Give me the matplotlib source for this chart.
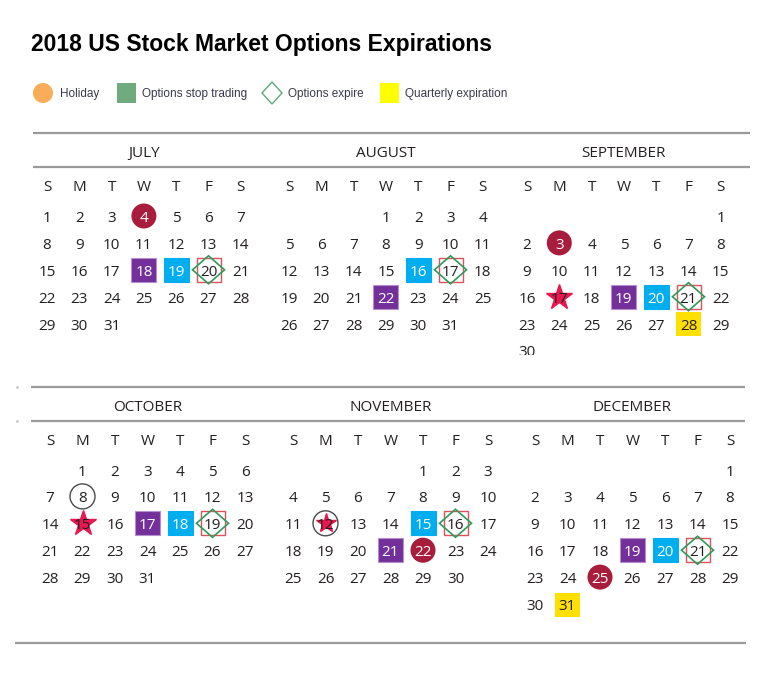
import calendar
import matplotlib
matplotlib.use('Agg')
import matplotlib.pyplot as plt
from matplotlib.patches import Circle, Rectangle, Polygon

year = 2018
title = '2018 US Stock Market Options Expirations'
month_nums = [7, 8, 9, 10, 11, 12]
month_names = ['JULY', 'AUGUST', 'SEPTEMBER', 'OCTOBER', 'NOVEMBER', 'DECEMBER']
day_letters = ['S', 'M', 'T', 'W', 'T', 'F', 'S']

legend_labels = ['Holiday', 'Options stop trading', 'Options expire', 'Quarterly expiration']

# marked days (month, day)
holidays = [(7, 4), (9, 3), (11, 22), (12, 25)]
purple_days = [(7, 18), (8, 22), (9, 19), (10, 17), (11, 21), (12, 19)]
blue_days = [(7, 19), (8, 16), (9, 20), (10, 18), (11, 15), (12, 20)]
expire_days = [(7, 20), (8, 17), (9, 21), (10, 19), (11, 16), (12, 21)]
quarterly_days = [(9, 28), (12, 31)]
star_days = [(9, 17), (10, 15), (11, 12)]
ringed_days = [(10, 8), (11, 12)]

# layout (pixels)
panel_x0 = [[47, 289, 527], [50, 293, 535]]
col_step = [32.3, 32.5]
line1_y = [133, 387]
name_y = [151, 405]
line2_y = [167, 421]
letters_y = [185, 439]
week0_y = [216, 469.5]
week_step = 26.9
line_span = [(33, 750), (31, 745)]
dy = 2.5  # text centring correction

font = 'Open Sans'
txt_col = '#231f20'

fig = plt.figure(figsize=(7.83, 6.95), dpi=100)
ax = fig.add_axes([0, 0, 1, 1])
ax.set_xlim(0, 783)
ax.set_ylim(695, 0)
ax.axis('off')

ax.text(31, 45, title, fontsize=16.5, fontweight='bold', family='Liberation Sans',
        ha='left', va='center', color='black')

# legend
ly = 93
ax.add_patch(Circle((43, ly), 10, color='#f9ad58', lw=0))
ax.add_patch(Rectangle((117, ly - 10), 19, 20, color='#6fab7f', lw=0))
ax.add_patch(Polygon([(262, ly), (272, ly - 11), (282, ly), (272, ly + 11)],
                     closed=True, fill=False, ec='#5fa87a', lw=1))
ax.add_patch(Rectangle((380, ly - 10), 19, 20, color='#ffff00', lw=0))
for lx, lab in zip([60, 142, 288, 405], legend_labels):
    ax.text(lx, ly + 1, lab, fontsize=8.5, family='Liberation Sans', color='#3a3a4a',
            ha='left', va='center')

cal = calendar.Calendar(firstweekday=6)


def day_pos(m, d):
    i = month_nums.index(m)
    r, c = divmod(i, 3)
    for w, week in enumerate(cal.monthdayscalendar(year, m)):
        if d in week:
            return (panel_x0[r][c] + week.index(d) * col_step[r], week0_y[r] + w * week_step)


gray = '#9a9a9a'
for r in range(2):
    x1, x2 = line_span[r]
    ax.plot([x1, x2], [line1_y[r], line1_y[r]], color=gray, lw=1.6, solid_capstyle='butt')
    ax.plot([x1, x2], [line2_y[r], line2_y[r]], color=gray, lw=1.6, solid_capstyle='butt')
ax.plot([15, 746], [643, 643], color=gray, lw=1.6, solid_capstyle='butt')
ax.plot([17, 17], [line1_y[1], line2_y[1]], color='#cccccc', ls='none', marker='s', ms=1)

for i, (m, name) in enumerate(zip(month_nums, month_names)):
    r, c = divmod(i, 3)
    x0 = panel_x0[r][c]
    ax.text(x0 + 3 * col_step[r], name_y[r] + dy, name, fontsize=11, family=font,
            color=txt_col, ha='center', va='center')
    for k, letter in enumerate(day_letters):
        ax.text(x0 + k * col_step[r], letters_y[r] + dy, letter, fontsize=11, family=font,
                color=txt_col, ha='center', va='center')

special_col = {}
for m, d in holidays:
    x, y = day_pos(m, d)
    ax.add_patch(Circle((x, y), 12.5, color='#a81d3c', lw=0, zorder=2))
    special_col[(m, d)] = 'white'
for days, col, edge in [(purple_days, '#74309a', '#b58fd0'), (blue_days, '#00aeef', '#00aeef')]:
    for m, d in days:
        x, y = day_pos(m, d)
        ax.add_patch(Rectangle((x - 12.5, y - 12), 25, 24, fc=col, ec=edge, lw=0.8, zorder=2))
        special_col[(m, d)] = 'white'
for m, d in quarterly_days:
    x, y = day_pos(m, d)
    ax.add_patch(Rectangle((x - 12.5, y - 11.5), 25, 24, color='#ffe000', lw=0, zorder=2))
for m, d in expire_days:
    x, y = day_pos(m, d)
    ax.add_patch(Rectangle((x - 12, y - 12), 24, 24, fill=False, ec='#e0505a', lw=1, zorder=2))
    ax.add_patch(Polygon([(x - 16, y), (x, y - 14), (x + 16, y), (x, y + 14)], closed=True,
                         fill=False, ec='#2e9b5a', lw=1.2, zorder=3))
for m, d in star_days:
    x, y = day_pos(m, d)
    small = (m, d) in ringed_days
    ax.plot(x, y, marker='*', ms=15 if small else 19, color='#e8174f', mec='#e8174f', zorder=2)
for m, d in ringed_days:
    x, y = day_pos(m, d)
    ax.add_patch(Circle((x, y), 12.5, fill=False, ec='#4a4a4a', lw=1, zorder=3))

for i, m in enumerate(month_nums):
    for w, week in enumerate(cal.monthdayscalendar(year, m)):
        for k, d in enumerate(week):
            if d == 0:
                continue
            x, y = day_pos(m, d)
            ax.text(x, y + dy, str(d), fontsize=11, family=font, ha='center', va='center',
                    color=special_col.get((m, d), txt_col), zorder=4)

# top panel cut off through its sixth row
ax.add_patch(Rectangle((500, week0_y[0] + 5 * week_step + 4), 250, 25, color='white', lw=0, zorder=5))

fig.savefig('out.png', dpi=100)
